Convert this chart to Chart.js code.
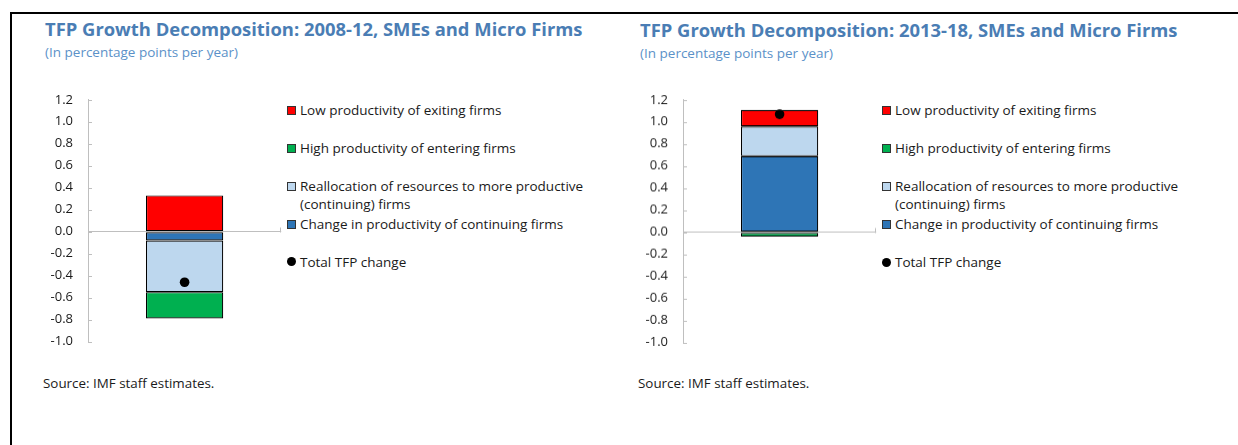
<!DOCTYPE html>
<html>
<head>
<meta charset="utf-8">
<script src="https://cdn.jsdelivr.net/npm/chart.js@4.4.1/dist/chart.umd.min.js"></script>
<style>
  html, body { margin: 0; padding: 0; background: #fff; }
  body { width: 1238px; height: 445px; position: relative; overflow: hidden; font-family: "Open Sans", "Noto Sans", sans-serif; }
  .frame { position: absolute; left: 10px; top: 12px; width: 1300px; height: 500px; border-left: 2px solid #000; border-top: 2px solid #000; }
  .panel { position: absolute; top: 0; width: 594px; height: 445px; }
  .title { position: absolute; left: 45px; top: 20.4px; font-size: 18.4px; line-height: 18.4px; font-weight: 700; color: #4a7db4; white-space: nowrap; }
  .subtitle { position: absolute; left: 45px; top: 46.3px; font-size: 13.5px; line-height: 13.5px; color: #5b91c8; white-space: nowrap; }
  .chartbox { position: absolute; left: 40px; top: 76.8px; width: 246px; height: 287.4px; }
  .legend { position: absolute; left: 287px; top: 100.7px; font-size: 13.5px; line-height: 18px; color: #1a1a1a; }
  .legend .item { display: flex; align-items: flex-start; white-space: nowrap; }
  .legend .item:nth-child(1), .legend .item:nth-child(2), .legend .item:nth-child(4) { margin-bottom: 20px; }
  .legend .item:nth-child(3) { margin-bottom: 2px; }
  .legend .mark { width: 7px; height: 7px; border: 1px solid #333; margin: 5px 4px 0 0; flex: none; }
  .legend .mark.dot { width: 9px; height: 9px; border: none; border-radius: 50%; background: #000; margin-top: 4.5px; }
  .source { position: absolute; left: 43px; top: 375.5px; font-size: 13.4px; line-height: 14px; color: #1a1a1a; white-space: nowrap; }
</style>
</head>
<body>
<div class="frame"></div>
<div class="panel" id="p1" style="left:0px"></div>
<div class="panel" id="p2" style="left:595px; top:0.7px"></div>
<script>
// data (percentage points per year)
var categories = ["SMEs and Micro Firms"];
var seriesNames = [
  "Low productivity of exiting firms",
  "High productivity of entering firms",
  ["Reallocation of resources to more productive", "(continuing) firms"],
  "Change in productivity of continuing firms",
  "Total TFP change"
];
var titles = [
  "TFP Growth Decomposition: 2008-12, SMEs and Micro Firms",
  "TFP Growth Decomposition: 2013-18, SMEs and Micro Firms"
];
var subtitle = "(In percentage points per year)";
var sourceNote = "Source: IMF staff estimates.";

var exiting0812 = [0.33];
var entering0812 = [-0.24];
var realloc0812 = [-0.47];
var within0812 = [-0.08];
var total0812 = [-0.46];

var exiting1318 = [0.15];
var entering1318 = [-0.04];
var realloc1318 = [0.27];
var within1318 = [0.69];
var total1318 = [1.07];

var yMin = -1.0, yMax = 1.2, yStep = 0.2;

var colors = ["#ff0000", "#00b050", "#bdd7ee", "#2e75b6", "#000000"];

// small inside tick marks on the value axis, and the end tick on the zero line
var insideTicks = {
  id: "insideTicks",
  afterDatasetsDraw: function(chart) {
    var ctx = chart.ctx, y = chart.scales.y, area = chart.chartArea;
    ctx.save();
    ctx.strokeStyle = "#bfbfbf";
    ctx.lineWidth = 1;
    ctx.beginPath();
    y.ticks.forEach(function(t) {
      var py = Math.round(y.getPixelForValue(t.value)) + 0.5;
      ctx.moveTo(area.left, py);
      ctx.lineTo(area.left + 4, py);
    });
    var p0 = Math.round(y.getPixelForValue(0)) + 0.5;
    ctx.moveTo(Math.round(area.right) - 0.5, p0);
    ctx.lineTo(Math.round(area.right) - 0.5, p0 - 5);
    ctx.stroke();
    ctx.restore();
  }
};

function barSet(label, data, color) {
  return {
    label: label, data: data, backgroundColor: color,
    borderColor: "#000", borderWidth: 1.2, borderSkipped: false,
    categoryPercentage: 1, barPercentage: 0.4, stack: "tfp", order: 2
  };
}

function buildPanel(el, title, exiting, entering, realloc, within, total) {
  el.innerHTML =
    '<div class="title">' + title + '</div>' +
    '<div class="subtitle">' + subtitle + '</div>' +
    '<div class="chartbox"><canvas></canvas></div>' +
    '<div class="legend"></div>' +
    '<div class="source">' + sourceNote + '</div>';

  var leg = el.querySelector(".legend");
  seriesNames.forEach(function(name, i) {
    var lines = Array.isArray(name) ? name.join("<br>") : name;
    var cls = i === 4 ? "mark dot" : "mark";
    leg.innerHTML += '<div class="item"><span class="' + cls + '" style="background:' + colors[i] + '"></span><span>' + lines + '</span></div>';
  });

  var canvas = el.querySelector("canvas");
  new Chart(canvas, {
    type: "bar",
    data: {
      labels: categories,
      datasets: [
        // stacking order from zero outward
        barSet(seriesNames[3], within, colors[3]),
        barSet(seriesNames[2].join(" "), realloc, colors[2]),
        barSet(seriesNames[0], exiting, colors[0]),
        barSet(seriesNames[1], entering, colors[1]),
        {
          type: "line", label: seriesNames[4], data: total, stack: "total",
          showLine: false, pointRadius: 4.8, pointBackgroundColor: colors[4],
          pointBorderWidth: 0, order: 1
        }
      ]
    },
    options: {
      responsive: true,
      maintainAspectRatio: false,
      animation: false,
      layout: { padding: { top: 0, bottom: 0, left: 0, right: 3 } },
      plugins: { legend: { display: false }, tooltip: { enabled: false } },
      scales: {
        x: { display: false, stacked: true },
        y: {
          stacked: true,
          min: yMin, max: yMax,
          afterFit: function(scale) { scale.width = 48; },
          ticks: {
            stepSize: yStep, padding: 15, color: "#1a1a1a",
            font: { family: "'Open Sans'", size: 13 },
            callback: function(v) { return Math.abs(v) < 1e-9 ? "0.0" : Number(v).toFixed(1); }
          },
          border: { display: true, color: "#bfbfbf", width: 1 },
          grid: {
            drawTicks: false,
            color: function(c) { return c.tick && Math.abs(c.tick.value) < 1e-9 ? "#bfbfbf" : "rgba(0,0,0,0)"; }
          }
        }
      }
    },
    plugins: [insideTicks]
  });
}

buildPanel(document.getElementById("p1"), titles[0], exiting0812, entering0812, realloc0812, within0812, total0812);
buildPanel(document.getElementById("p2"), titles[1], exiting1318, entering1318, realloc1318, within1318, total1318);
</script>
</body>
</html>
